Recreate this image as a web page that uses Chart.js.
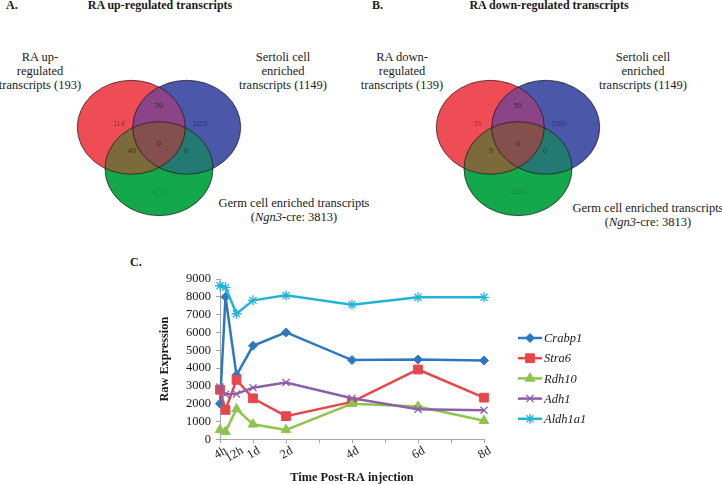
<!DOCTYPE html>
<html>
<head>
<meta charset="utf-8">
<script src="https://cdn.jsdelivr.net/npm/chart.js@4.4.0/dist/chart.umd.min.js"></script>
<style>
body{margin:0;background:#fff;width:722px;height:485px;position:relative;overflow:hidden;font-family:"Liberation Serif","Times New Roman",serif;color:#1a1a1a}
.t{position:absolute;white-space:nowrap;font-size:12.5px;line-height:14px;text-align:center}
.c{transform:translateX(-50%)}
.h{font-weight:bold;font-size:12px}
.box{position:absolute}
</style>
</head>
<body>
<!-- panel A -->
<div class="t h" style="left:6px;top:-2px">A.</div>
<div class="t h c" style="left:160px;top:-2px">RA up-regulated transcripts</div>
<div class="t c" style="left:40px;top:50px">RA up-<br>regulated<br>transcripts (193)</div>
<div class="t c" style="left:283px;top:50px">Sertoli cell<br>enriched<br>transcripts (1149)</div>
<div class="t c" style="left:294px;top:196px">Germ cell enriched transcripts<br>(<i>Ngn3</i>-cre: 3813)</div>
<div class="box" style="left:69px;top:68px;width:180px;height:160px"><canvas id="vennUp" width="180" height="160"></canvas></div>

<!-- panel B -->
<div class="t h" style="left:372px;top:-2px">B.</div>
<div class="t h c" style="left:549px;top:-2px">RA down-regulated transcripts</div>
<div class="t c" style="left:402px;top:50px">RA down-<br>regulated<br>transcripts (139)</div>
<div class="t c" style="left:643px;top:50px">Sertoli cell<br>enriched<br>transcripts (1149)</div>
<div class="t c" style="left:648px;top:201px">Germ cell enriched transcripts<br>(<i>Ngn3</i>-cre: 3813)</div>
<div class="box" style="left:428px;top:68px;width:180px;height:160px"><canvas id="vennDown" width="180" height="160"></canvas></div>

<!-- panel C -->
<div class="t h" style="left:130px;top:255px">C.</div>
<div class="box" style="left:0;top:240px;width:722px;height:245px"><canvas id="lineChart" width="722" height="245"></canvas></div>

<script>
// Venn counts, region order: RA only, RA+Sertoli, Sertoli only, all three, RA+Germ, Sertoli+Germ, Germ only
const vennUpCounts = [114, 39, 1110, 0, 40, 0, 3773];
const vennDownCounts = [71, 59, 1090, 0, 9, 0, 3804];

// time course (days after RA injection)
const timeDays = [0, 0.1667, 0.5, 1, 2, 4, 6, 8];
const xTickValues = [0, 0.5, 1, 2, 4, 6, 8];
const xTickLabels = ['4h', '12h', '1d', '2d', '4d', '6d', '8d'];
const geneNames = ['Crabp1', 'Stra6', 'Rdh10', 'Adh1', 'Aldh1a1'];
const crabp1 = [2000, 8000, 3600, 5250, 6000, 4450, 4480, 4420];
const stra6 = [2780, 1650, 3340, 2300, 1300, 2100, 3920, 2340];
const rdh10 = [530, 430, 1700, 840, 530, 2000, 1840, 1040];
const adh1 = [2930, 2530, 2550, 2900, 3190, 2300, 1690, 1630];
const aldh1a1 = [8620, 8530, 7050, 7800, 8080, 7560, 7970, 7970];
const yTicks = [0, 1000, 2000, 3000, 4000, 5000, 6000, 7000, 8000, 9000];

// layout of the venn diagrams (unit = circle radius)
const vennCircles = [{x: -0.513, y: 0.44}, {x: 0.513, y: 0.44}, {x: 0, y: -0.44}];
const vennLabelPos = [[-0.74, 0.505], [0, 0.89], [0.76, 0.505], [0, 0.08], [-0.5, -0.07], [0.5, -0.07], [0, -0.94]];
const vennLabelColors = ['#9a2530', '#3d1f45', '#2c3180', '#3a2020', '#3a3012', '#10392f', '#1a8a45'];
const regionColors = {r: '#ee4d56', b: '#4b57a9', g: '#12a84b', rb: '#8c4489', rg: '#7d6a3a', bg: '#237a72', rbg: '#84504d'};

const serif = '"Liberation Serif", "Times New Roman", serif';

const vennPlugin = {
    id: 'venn',
    afterDatasetsDraw(chart, args, opts) {
        const ctx = chart.ctx;
        const xs = chart.scales.x, ys = chart.scales.y;
        const pts = chart.getDatasetMeta(0).data;
        const rx = xs.getPixelForValue(1) - xs.getPixelForValue(0);
        const ry = ys.getPixelForValue(0) - ys.getPixelForValue(1);
        const path = p => { ctx.beginPath(); ctx.ellipse(p.x, p.y, rx, ry, 0, 0, Math.PI * 2); };
        const [r, b, g] = pts;
        ctx.save();
        path(r); ctx.fillStyle = regionColors.r; ctx.fill();
        path(b); ctx.fillStyle = regionColors.b; ctx.fill();
        path(g); ctx.fillStyle = regionColors.g; ctx.fill();
        const inter = (clips, fillP, color) => {
            ctx.save();
            clips.forEach(c => { path(c); ctx.clip(); });
            path(fillP); ctx.fillStyle = color; ctx.fill();
            ctx.restore();
        };
        inter([r], b, regionColors.rb);
        inter([r], g, regionColors.rg);
        inter([b], g, regionColors.bg);
        inter([r, b], g, regionColors.rbg);
        ctx.strokeStyle = 'rgba(30,15,15,0.85)';
        ctx.lineWidth = 0.8;
        [r, b, g].forEach(p => { path(p); ctx.stroke(); });
        ctx.font = '7px "Liberation Sans", Arial, sans-serif';
        ctx.textAlign = 'center';
        ctx.textBaseline = 'middle';
        opts.counts.forEach((n, i) => {
            ctx.fillStyle = vennLabelColors[i];
            ctx.fillText(String(n), xs.getPixelForValue(vennLabelPos[i][0]), ys.getPixelForValue(vennLabelPos[i][1]));
        });
        ctx.restore();
    }
};

function makeVenn(id, counts) {
    return new Chart(document.getElementById(id), {
        type: 'scatter',
        data: { datasets: [{ data: vennCircles, pointRadius: 0 }] },
        options: {
            responsive: false,
            animation: false,
            layout: { padding: 0 },
            plugins: { legend: { display: false }, tooltip: { enabled: false }, venn: { counts: counts } },
            scales: {
                x: { display: false, min: -1.6667, max: 1.6667 },
                y: { display: false, min: -1.702, max: 1.702 }
            }
        },
        plugins: [vennPlugin]
    });
}
makeVenn('vennUp', vennUpCounts);
makeVenn('vennDown', vennDownCounts);

// line chart
const seriesValues = [crabp1, stra6, rdh10, adh1, aldh1a1];
const lineColors = ['#2e78c0', '#e5474c', '#8dc44e', '#8c60a8', '#22b4d8'];
const markerStyles = ['rectRot', 'rect', 'triangle', 'crossRot', 'star'];
const markerRadius = [4.5, 6.2, 5.5, 5, 5];

const sideLegend = {
    id: 'sideLegend',
    afterDraw(chart) {
        const ctx = chart.ctx;
        const area = chart.chartArea;
        const helpers = Chart.helpers;
        chart.data.datasets.forEach((ds, i) => {
            const y = area.top + 59 + i * 20.2;
            const x0 = area.right + 34;
            ctx.save();
            ctx.strokeStyle = ds.borderColor;
            ctx.fillStyle = ds.borderColor;
            ctx.lineWidth = 2.5;
            ctx.beginPath(); ctx.moveTo(x0, y); ctx.lineTo(x0 + 24, y); ctx.stroke();
            if (helpers && helpers.drawPoint) {
                ctx.lineWidth = ds.pointBorderWidth;
                helpers.drawPoint(ctx, { pointStyle: ds.pointStyle, radius: ds.pointRadius, rotation: 0, borderWidth: ds.pointBorderWidth }, x0 + 12, y);
            }
            ctx.fillStyle = '#1a1a1a';
            ctx.font = 'italic 12.5px ' + serif;
            ctx.textAlign = 'left';
            ctx.textBaseline = 'middle';
            ctx.fillText(ds.label, x0 + 26, y + 1);
            ctx.restore();
        });
    }
};

new Chart(document.getElementById('lineChart'), {
    type: 'scatter',
    data: {
        datasets: geneNames.map((g, i) => ({
            label: g,
            data: timeDays.map((t, j) => ({ x: t, y: seriesValues[i][j] })),
            showLine: true,
            borderColor: lineColors[i],
            backgroundColor: lineColors[i],
            borderWidth: 2.5,
            pointStyle: markerStyles[i],
            pointRadius: markerRadius[i],
            pointBorderWidth: (markerStyles[i] === 'crossRot' || markerStyles[i] === 'star') ? 1.3 : 1,
            clip: false,
            order: geneNames.length - i
        }))
    },
    options: {
        responsive: false,
        animation: false,
        layout: { padding: { left: 153, right: 238, top: 39, bottom: 0 } },
        plugins: { legend: { display: false }, tooltip: { enabled: false } },
        scales: {
            x: {
                type: 'linear', min: 0, max: 8,
                afterBuildTicks: s => { s.ticks = [0, 0.5, 1, 2, 3, 4, 5, 6, 7, 8].map(v => ({ value: v })); },
                afterFit: s => { s.height = 45.7; },
                ticks: {
                    autoSkip: false, minRotation: 30, maxRotation: 30, padding: 0, labelOffset: 6,
                    color: '#1a1a1a', font: { family: serif, size: 12.5 },
                    callback: v => { const k = xTickValues.indexOf(v); return k < 0 ? '' : xTickLabels[k]; }
                },
                grid: {
                    drawOnChartArea: false, tickLength: 4,
                    tickColor: c => (c.tick && c.tick.value > 0 && c.tick.value < 1) ? 'rgba(0,0,0,0)' : '#a6a6a6'
                },
                border: { color: '#a6a6a6', width: 1 },
                title: { display: true, text: 'Time Post-RA injection', color: '#1a1a1a', font: { family: serif, size: 12.3, weight: 'bold' }, padding: { top: 0, bottom: 0 } }
            },
            y: {
                min: 0, max: 9000,
                afterBuildTicks: s => { s.ticks = yTicks.map(v => ({ value: v })); },
                afterFit: s => { s.width = 67; },
                ticks: { autoSkip: false, color: '#1a1a1a', font: { family: serif, size: 12.5 }, padding: 5, callback: v => String(v) },
                grid: { drawOnChartArea: false, tickLength: 4, tickColor: '#a6a6a6' },
                border: { color: '#a6a6a6', width: 1 },
                title: { display: true, text: 'Raw Expression', color: '#1a1a1a', font: { family: serif, size: 12.3, weight: 'bold' }, padding: { top: 4, bottom: 4 } }
            }
        }
    },
    plugins: [sideLegend]
});
</script>
</body>
</html>
